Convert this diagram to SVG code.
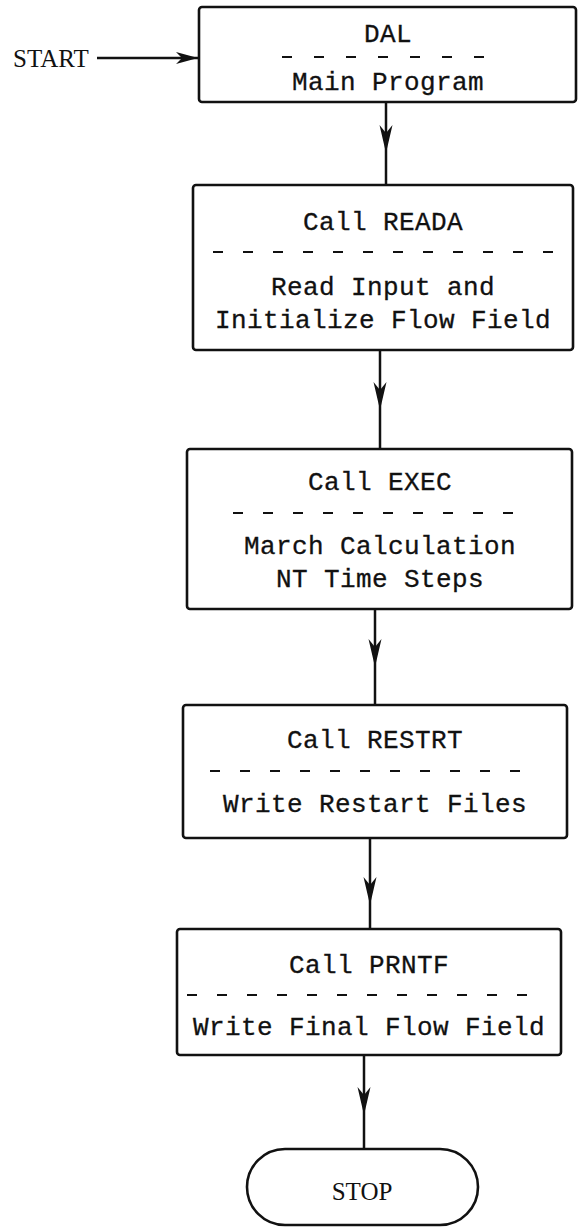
<svg xmlns="http://www.w3.org/2000/svg" width="578" height="1229" viewBox="0 0 578 1229">
  <style>
    .box { fill: #fff; stroke: #111; stroke-width: 2.6; }
    .sep { stroke: #111; stroke-width: 2.2; fill: none; stroke-dasharray: 10 20; }
    .sep1 { stroke-dasharray: 10 22; }
    .t { font-family: "Liberation Mono", "DejaVu Sans Mono", monospace; font-size: 26px; letter-spacing: 0.4px; fill: #111; stroke: #111; stroke-width: 0.3; text-anchor: middle; }
    .s { font-family: "Liberation Serif", "DejaVu Serif", serif; font-size: 25px; fill: #111; }
    .wire { stroke: #111; stroke-width: 2.5; fill: none; }
  </style>
  <defs>
    <!-- narrow dart-shaped arrowhead, tip at the origin -->
    <marker id="dart" viewBox="-30 -8 32 16" refX="0" refY="0" markerWidth="32" markerHeight="16" markerUnits="userSpaceOnUse" orient="auto">
      <path d="M0,0 L-28,-6.5 L-20,0 L-28,6.5 Z" fill="#111"/>
    </marker>
    <marker id="dartEnd" viewBox="-30 -8 32 16" refX="0" refY="0" markerWidth="32" markerHeight="16" markerUnits="userSpaceOnUse" orient="auto">
      <path d="M0,0 L-22,-6 L-16,0 L-22,6 Z" fill="#111"/>
    </marker>
  </defs>

  <rect width="578" height="1229" fill="#fff"/>

  <!-- connectors -->
  <g id="connectors">
    <path class="wire" d="M97,58 L198,58" marker-end="url(#dartEnd)"/>
    <path class="wire" d="M386,102 L386,153 L386,185" marker-mid="url(#dart)"/>
    <path class="wire" d="M380,350 L380,410 L380,449" marker-mid="url(#dart)"/>
    <path class="wire" d="M375,609 L375,667 L375,705" marker-mid="url(#dart)"/>
    <path class="wire" d="M370,838 L370,905 L370,929" marker-mid="url(#dart)"/>
    <path class="wire" d="M364,1055 L364,1115 L364,1149" marker-mid="url(#dart)"/>
  </g>

  <!-- entry label -->
  <g id="start">
    <text class="s" x="13" y="67">START</text>
  </g>

  <!-- main program -->
  <g id="dal">
    <rect class="box" x="199" y="7" width="377" height="95" rx="3"/>
    <text class="t" x="388" y="42">DAL</text>
    <line class="sep sep1" x1="282" y1="57" x2="484" y2="57"/>
    <text class="t" x="388" y="90">Main Program</text>
  </g>

  <g id="reada">
    <rect class="box" x="193" y="185" width="380" height="165" rx="3"/>
    <text class="t" x="383" y="230">Call READA</text>
    <line class="sep" x1="213" y1="252" x2="553" y2="252"/>
    <text class="t" x="383" y="295">Read Input and</text>
    <text class="t" x="383" y="328">Initialize Flow Field</text>
  </g>

  <g id="exec">
    <rect class="box" x="187" y="449" width="385" height="160" rx="3"/>
    <text class="t" x="380" y="490">Call EXEC</text>
    <line class="sep" x1="233" y1="513" x2="513" y2="513"/>
    <text class="t" x="380" y="554">March Calculation</text>
    <text class="t" x="380" y="587">NT Time Steps</text>
  </g>

  <g id="restrt">
    <rect class="box" x="183" y="705" width="384" height="133" rx="3"/>
    <text class="t" x="375" y="748">Call RESTRT</text>
    <line class="sep" x1="210" y1="771" x2="520" y2="771"/>
    <text class="t" x="375" y="812">Write Restart Files</text>
  </g>

  <g id="prntf">
    <rect class="box" x="177" y="929" width="384" height="126" rx="3"/>
    <text class="t" x="369" y="973">Call PRNTF</text>
    <line class="sep" x1="187" y1="995" x2="527" y2="995"/>
    <text class="t" x="369" y="1035">Write Final Flow Field</text>
  </g>

  <g id="stop">
    <rect class="box" x="247" y="1149" width="231" height="76" rx="38"/>
    <text class="s" x="362" y="1200" text-anchor="middle" font-size="24">STOP</text>
  </g>
</svg>
